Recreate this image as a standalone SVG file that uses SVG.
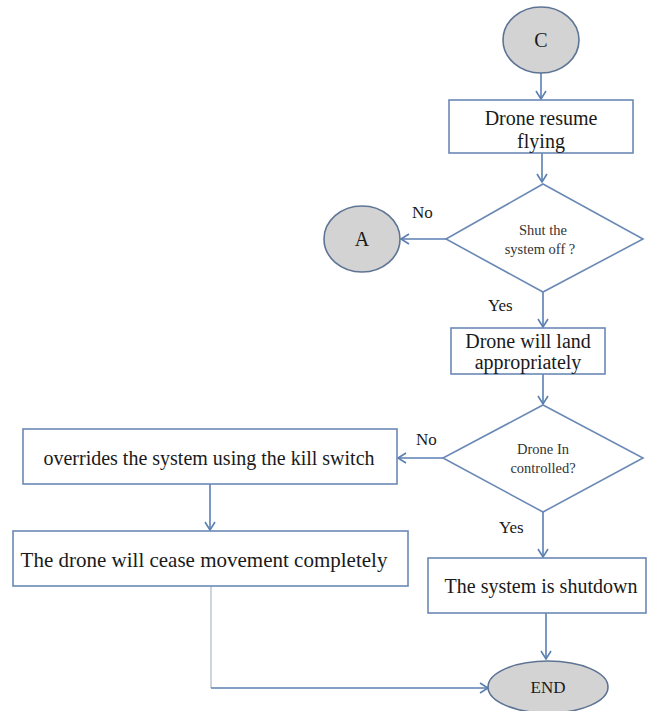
<svg xmlns="http://www.w3.org/2000/svg" width="648" height="711" viewBox="0 0 648 711">
<style>
.box{fill:#fff;stroke:#6a89b5;stroke-width:1.6}
.term{fill:#d3d3d3;stroke:#5d7494;stroke-width:1.6}
.t{font-family:"Liberation Serif","Times New Roman",serif;font-size:20px;fill:#1a1a1a;text-anchor:middle}
.s{font-family:"Liberation Serif","Times New Roman",serif;font-size:14.5px;fill:#333;text-anchor:middle}
.l{font-family:"Liberation Serif","Times New Roman",serif;font-size:17px;fill:#1a1a1a}
.c{fill:none;stroke:#5b7fb2;stroke-width:1.6}
.g{fill:none;stroke:#b9c2cf;stroke-width:1.4}
</style>
<defs>
<marker id="ah" markerWidth="12" markerHeight="12" refX="10" refY="6" orient="auto" markerUnits="userSpaceOnUse">
<polyline points="2,1 10,6 2,11" fill="none" stroke="#5b7fb2" stroke-width="1.6"/>
</marker>
</defs>
<g id="connectors">
<line class="c" x1="541" y1="73" x2="541" y2="99" marker-end="url(#ah)"/>
<line class="c" x1="542" y1="153" x2="542" y2="182" marker-end="url(#ah)"/>
<line class="c" x1="446" y1="239" x2="401" y2="239" marker-end="url(#ah)"/>
<line class="c" x1="543" y1="292" x2="543" y2="327" marker-end="url(#ah)"/>
<line class="c" x1="543" y1="374" x2="543" y2="404" marker-end="url(#ah)"/>
<line class="c" x1="443" y1="458" x2="398" y2="458" marker-end="url(#ah)"/>
<line class="c" x1="210" y1="484" x2="210" y2="530" marker-end="url(#ah)"/>
<line class="c" x1="543" y1="512" x2="543" y2="557" marker-end="url(#ah)"/>
<line class="c" x1="546" y1="613" x2="546" y2="659" marker-end="url(#ah)"/>
<polyline class="g" points="211,586 211,688"/>
<line class="c" x1="211" y1="688" x2="488" y2="688" stroke="#7f93b0" marker-end="url(#ah)"/>
<text class="l" x="412" y="218">No</text>
<text class="l" x="488" y="311">Yes</text>
<text class="l" x="416" y="445">No</text>
<text class="l" x="499" y="533">Yes</text>
</g>
<g id="nodeC">
<ellipse class="term" cx="541" cy="40" rx="38" ry="33"/>
<text class="t" x="541" y="47">C</text>
</g>
<g id="nodeResume">
<rect class="box" x="449" y="100" width="184" height="53"/>
<text class="t" x="541" y="125">Drone resume</text>
<text class="t" x="541" y="148">flying</text>
</g>
<g id="nodeShut">
<polygon class="box" points="543,184 643,239 543,292 446,239"/>
<text class="s" x="543" y="235">Shut the</text>
<text class="s" x="540" y="254">system off ?</text>
</g>
<g id="nodeA">
<ellipse class="term" cx="362" cy="239" rx="38" ry="33"/>
<text class="t" x="362" y="246">A</text>
</g>
<g id="nodeLand">
<rect class="box" x="451" y="328" width="154" height="46"/>
<text class="t" x="528" y="348">Drone will land</text>
<text class="t" x="528" y="369">appropriately</text>
</g>
<g id="nodeControlled">
<polygon class="box" points="543,405 643,458 543,512 443,458"/>
<text class="s" x="543" y="454">Drone In</text>
<text class="s" x="543" y="473">controlled?</text>
</g>
<g id="nodeOverride">
<rect class="box" x="23" y="429" width="374" height="55"/>
<text class="t" x="209" y="465">overrides the system using the kill switch</text>
</g>
<g id="nodeCease">
<rect class="box" x="13" y="531" width="395" height="55"/>
<text class="t" x="204" y="567" style="font-size:21px">The drone will cease movement completely</text>
</g>
<g id="nodeShutdown">
<rect class="box" x="428" y="558" width="218" height="55"/>
<text class="t" x="541" y="593">The system is shutdown</text>
</g>
<g id="nodeEnd">
<ellipse class="term" cx="548" cy="687" rx="60" ry="26"/>
<text class="t" x="548" y="693" style="font-size:17px">END</text>
</g>
</svg>
